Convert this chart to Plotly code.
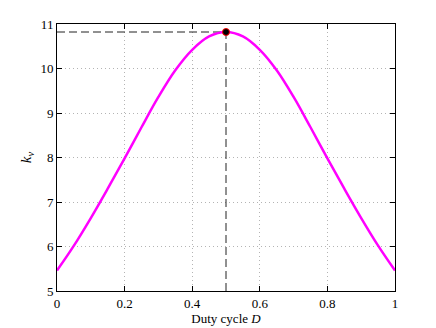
import plotly.graph_objects as go

# duty cycle D and k_v
duty = [0.0, 0.05, 0.10, 0.15, 0.20, 0.25, 0.30, 0.35, 0.40, 0.45, 0.50,
        0.55, 0.60, 0.65, 0.70, 0.75, 0.80, 0.85, 0.90, 0.95, 1.0]
kv = [5.46, 6.02, 6.64, 7.30, 7.98, 8.68, 9.36, 9.96, 10.42, 10.72, 10.82,
      10.72, 10.42, 9.96, 9.36, 8.68, 7.98, 7.30, 6.64, 6.02, 5.46]

x_ticks = [0, 0.2, 0.4, 0.6, 0.8, 1]
x_ticktext = ["0", "0.2", "0.4", "0.6", "0.8", "1"]
y_ticks = [5, 6, 7, 8, 9, 10, 11]

ipk = kv.index(max(kv))
d_pk, k_pk = duty[ipk], kv[ipk]

fig = go.Figure()
fig.add_trace(go.Scatter(
    x=[0, d_pk, d_pk], y=[k_pk, k_pk, y_ticks[0]], mode="lines",
    line=dict(color="#222222", width=1, dash="8px,4px"), hoverinfo="skip"))
fig.add_trace(go.Scatter(
    x=duty, y=kv, mode="lines",
    line=dict(color="#ff00ff", width=2.5, shape="spline", smoothing=1.0)))
fig.add_trace(go.Scatter(
    x=[d_pk], y=[k_pk], mode="markers",
    marker=dict(color="black", size=7, line=dict(color="red", width=1))))

font = dict(family="Liberation Serif, Times New Roman, serif", size=13, color="black")
axis_common = dict(
    showline=True, linecolor="black", linewidth=1, mirror="ticks",
    ticks="inside", ticklen=5, tickcolor="black",
    showgrid=True, gridcolor="#b4b4b4", griddash="1px,3px", gridwidth=1,
    zeroline=False, tickfont=font, automargin=False,
)
fig.update_xaxes(range=[0, 1], tickvals=x_ticks, ticktext=x_ticktext,
                 title=dict(text="Duty cycle <i>D</i>", font=font, standoff=2),
                 **axis_common)
fig.update_yaxes(range=[5, 11], tickvals=y_ticks,
                 title=dict(text="<i>k</i><sub><i>v</i></sub>",
                            font=dict(font, size=15), standoff=5),
                 **axis_common)
# page body adds an 8px offset, margins compensate for it
fig.update_layout(
    width=436, height=328, showlegend=False,
    margin=dict(l=49, r=49, t=16, b=45),
    plot_bgcolor="white", paper_bgcolor="white", font=font,
)
fig.write_html("out.html")
